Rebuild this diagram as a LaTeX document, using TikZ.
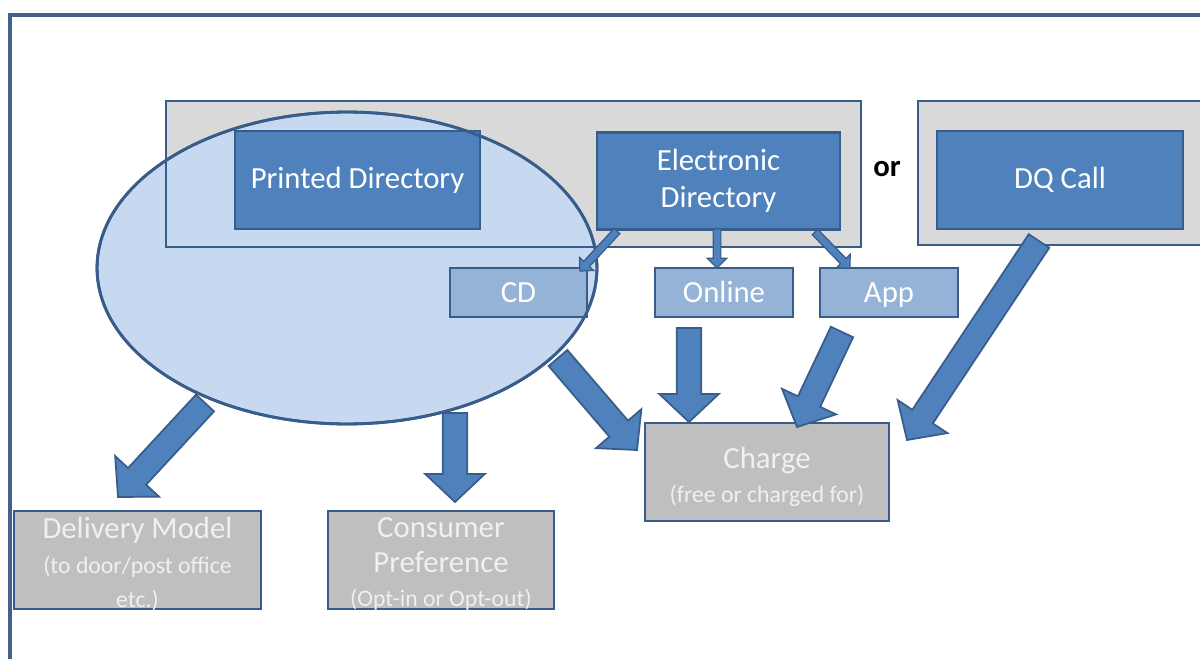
\documentclass[tikz,border=0pt]{standalone}
\usepackage{fontspec}
\setmainfont{Carlito}
\usetikzlibrary{calc,shapes.geometric}

\definecolor{dirblue}{HTML}{4F81BD}
\definecolor{dirline}{HTML}{385D8A}
\definecolor{subblue}{HTML}{95B3D7}
\definecolor{ellblue}{HTML}{C6D9F1}
\definecolor{grpgray}{HTML}{D9D9D9}
\definecolor{outgray}{HTML}{BFBFBF}
\definecolor{framecol}{HTML}{41628A}

\newcommand\subline{\fontsize{13.5}{16}\selectfont}

\tikzset{
  arrshaft/.store in=\arrshaft, arrhead/.store in=\arrhead, arrlen/.store in=\arrlen,
  fatarrow/.style={draw=dirline, fill=dirblue, line width=1pt, line join=miter,
    arrshaft=7pt, arrhead=17pt, arrlen=16pt,
    to path={let \p1=($(\tikztotarget)!\arrlen!(\tikztostart)$) in
      ($(\tikztostart)!\arrshaft!90:(\tikztotarget)$)
      -- ($(\p1)!\arrshaft!90:(\tikztotarget)$)
      -- ($(\p1)!\arrhead!90:(\tikztotarget)$)
      -- (\tikztotarget)
      -- ($(\p1)!\arrhead!-90:(\tikztotarget)$)
      -- ($(\p1)!\arrshaft!-90:(\tikztotarget)$)
      -- ($(\tikztostart)!\arrshaft!-90:(\tikztotarget)$)
      -- cycle}},
  thinarrow/.style={fatarrow, line width=0.7pt, arrshaft=2.2pt, arrhead=5.5pt, arrlen=5.5pt},
  grpbox/.style={draw=dirline, fill=grpgray, line width=1.6pt, inner sep=0pt, outer sep=0pt},
  dirbox/.style={draw=dirline, fill=dirblue, line width=1.6pt, text=white, align=center,
    font=\fontsize{17.5}{21}\selectfont, minimum height=1.96cm, inner sep=0pt, outer sep=0pt},
  subbox/.style={draw=dirline, fill=subblue, line width=1.6pt, text=white,
    font=\fontsize{17.5}{21}\selectfont, text height=12pt, text depth=1pt,
    minimum width=2.76cm, minimum height=0.98cm, inner sep=0pt, outer sep=0pt},
  outbox/.style={draw=dirline, fill=outgray, line width=1.6pt, minimum height=1.96cm, inner sep=0pt, outer sep=0pt},
  outtext/.style={text=white!94!black, align=center, font=\fontsize{17.5}{19.5}\selectfont, inner sep=0pt},
}

\begin{document}
\begin{tikzpicture}[x=0.02cm, y=-0.02cm]
\useasboundingbox (0,0) rectangle (1200,659);
\clip (0,0) rectangle (1200,659);

% outer frame
\draw[framecol, line width=2.2pt] (10,700) -- (10,15) -- (1250,15);

% groups
\node[grpbox, minimum width=13.9cm, minimum height=2.92cm] (grp1) at (513.5,174) {};
\node[grpbox, minimum width=5.68cm, minimum height=2.88cm] (grp2) at (1060,173) {};

% reach of the printed directory
\node[ellipse, fill=ellblue, draw=dirline, line width=1.6pt, minimum width=10cm, minimum height=6.24cm, inner sep=0pt, outer sep=0pt] (reach) at (347,268) {};
\draw[dirline, line width=1.6pt] (grp1.south west) rectangle (grp1.north east);

\node[dirbox, minimum width=4.9cm] (pd) at (357.5,180) {Printed Directory};
\node[dirbox, minimum width=4.86cm, minimum height=1.94cm] (ed) at (718.5,181) {Electronic\\Directory};
\node[dirbox, minimum width=4.92cm] (dq) at (1060,180) {DQ Call};
\node[font=\fontsize{17.5}{21}\selectfont\bfseries] (or) at (887,169) {or};

\node[subbox, minimum width=2.74cm] (cd) at (518.5,292.5) {CD};
\node[subbox] (online) at (724,292.5) {Online};
\node[subbox] (app) at (889,292.5) {App};
\draw[dirline, line width=1.6pt] (reach.center) ellipse [x radius=5cm, y radius=3.12cm];

% outcomes
\node[outbox, minimum width=4.88cm] (charge) at (767,472) {};
\node[outbox, minimum width=4.94cm] (dm) at (137.5,560) {};
\node[outbox, minimum width=4.52cm] (cp) at (441,560) {};
\node[outtext] (charge-txt) at (767,477) {Charge\\{\subline (free or charged for)}};
\node[outtext] (dm-txt) at (137.5,564) {Delivery Model\\{\subline (to door/post office}\\{\subline etc.)}};
\node[outtext] (cp-txt) at (441,564) {Consumer\\Preference\\{\subline (Opt-in or Opt-out)}};

% end points of the arrows
\coordinate (ed-cd) at (617,231);
\coordinate (cd-in) at (580,271);
\coordinate (ed-on) at (717,229);
\coordinate (on-in) at (717,268);
\coordinate (ed-app) at (815,232);
\coordinate (app-in) at (850,268);
\coordinate (reach-dm) at (205,403);
\coordinate (dm-in) at (118,497);
\coordinate (reach-cp) at (455,413);
\coordinate (cp-in) at (455,502);
\coordinate (reach-ch) at (558,358);
\coordinate (ch-w) at (637,450);
\coordinate (on-ch) at (689,328);
\coordinate (ch-n) at (689,422);
\coordinate (app-ch) at (842,332);
\coordinate (ch-ne) at (797,427);
\coordinate (dq-ch) at (1039,241);
\coordinate (ch-e) at (907,440);

\draw[thinarrow] (ed-cd) to (cd-in);
\draw[thinarrow] (ed-on) to (on-in);
\draw[thinarrow] (ed-app) to (app-in);

\draw[fatarrow] (reach-dm) to (dm-in);
\draw[fatarrow] (reach-cp) to (cp-in);
\draw[fatarrow] (reach-ch) to (ch-w);
\draw[fatarrow] (on-ch) to (ch-n);
\draw[fatarrow] (app-ch) to (ch-ne);
\draw[fatarrow] (dq-ch) to (ch-e);
\end{tikzpicture}
\end{document}
